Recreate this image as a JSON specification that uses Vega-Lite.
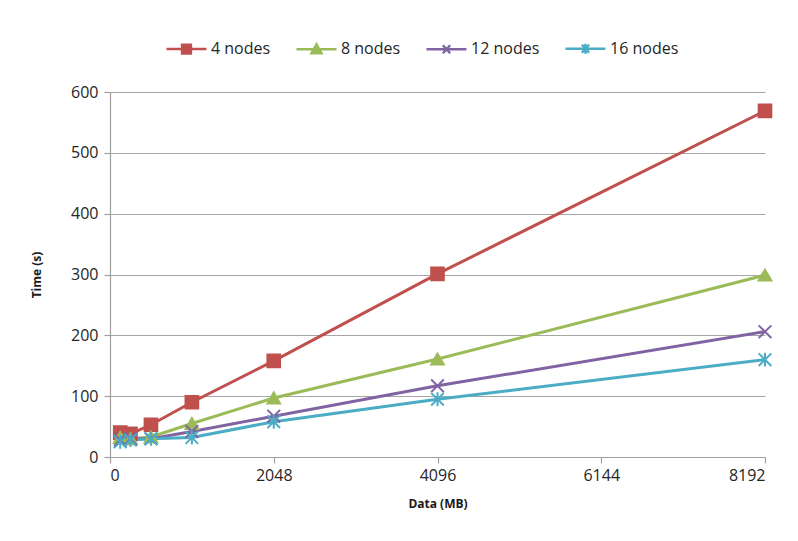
{
  "$schema": "https://vega.github.io/schema/vega-lite/v6.json",
  "width": 655,
  "height": 365,
  "autosize": {"type": "none"},
  "padding": {"left": 110, "top": 92, "right": 33, "bottom": 84},
  "background": "white",
  "config": {
    "view": {"stroke": null},
    "font": "Open Sans",
    "axis": {
      "labelFont": "Open Sans",
      "labelFontSize": 16,
      "labelColor": "#262626",
      "titleFont": "Open Sans",
      "titleFontSize": 12,
      "titleFontWeight": "bold",
      "titleColor": "#1a1a1a",
      "domainColor": "#a0a0a0",
      "tickColor": "#a0a0a0",
      "gridColor": "#a6a6a6",
      "gridWidth": 1.2,
      "domainWidth": 1.2,
      "tickWidth": 1.2,
      "tickSize": 6
    }
  },
  "data": {
    "values": [
      {"size": 128, "time": 40, "series": "4 nodes"},
      {"size": 256, "time": 38, "series": "4 nodes"},
      {"size": 512, "time": 53, "series": "4 nodes"},
      {"size": 1024, "time": 90, "series": "4 nodes"},
      {"size": 2048, "time": 158, "series": "4 nodes"},
      {"size": 4096, "time": 301, "series": "4 nodes"},
      {"size": 8192, "time": 569, "series": "4 nodes"},
      {"size": 128, "time": 32, "series": "8 nodes"},
      {"size": 256, "time": 30, "series": "8 nodes"},
      {"size": 512, "time": 33, "series": "8 nodes"},
      {"size": 1024, "time": 55, "series": "8 nodes"},
      {"size": 2048, "time": 97, "series": "8 nodes"},
      {"size": 4096, "time": 161, "series": "8 nodes"},
      {"size": 8192, "time": 299, "series": "8 nodes"},
      {"size": 128, "time": 28, "series": "12 nodes"},
      {"size": 256, "time": 30, "series": "12 nodes"},
      {"size": 512, "time": 30, "series": "12 nodes"},
      {"size": 1024, "time": 42, "series": "12 nodes"},
      {"size": 2048, "time": 67, "series": "12 nodes"},
      {"size": 4096, "time": 117, "series": "12 nodes"},
      {"size": 8192, "time": 206, "series": "12 nodes"},
      {"size": 128, "time": 25, "series": "16 nodes"},
      {"size": 256, "time": 28, "series": "16 nodes"},
      {"size": 512, "time": 30, "series": "16 nodes"},
      {"size": 1024, "time": 32, "series": "16 nodes"},
      {"size": 2048, "time": 58, "series": "16 nodes"},
      {"size": 4096, "time": 95, "series": "16 nodes"},
      {"size": 8192, "time": 160, "series": "16 nodes"}
    ]
  },
  "encoding": {
    "x": {
      "field": "size",
      "type": "quantitative",
      "scale": {"domain": [0, 8192], "nice": false},
      "axis": {
        "title": "Data (MB)",
        "values": [0, 2048, 4096, 6144, 8192],
        "format": "d",
        "grid": false,
        "labelPadding": 4,
        "titlePadding": 15
      }
    },
    "y": {
      "field": "time",
      "type": "quantitative",
      "scale": {"domain": [0, 600], "nice": false},
      "axis": {
        "title": "Time (s)",
        "values": [0, 100, 200, 300, 400, 500, 600],
        "grid": true,
        "labelPadding": 6,
        "titlePadding": 27
      }
    }
  },
  "resolve": {
    "scale": {"shape": "independent"},
    "legend": {"color": "independent", "shape": "independent", "stroke": "independent"}
  },
  "layer": [
    {
      "mark": {"type": "line", "strokeWidth": 3},
      "encoding": {
        "color": {
          "field": "series",
          "type": "nominal",
          "scale": {
            "domain": ["4 nodes", "8 nodes", "12 nodes", "16 nodes"],
            "range": ["#C0504D", "#9BBB59", "#8064A2", "#4BACC6"]
          },
          "legend": {
            "title": null,
            "orient": "none",
            "legendX": 55,
            "legendY": -65,
            "direction": "horizontal",
            "symbolSize": 1600,
            "symbolStrokeWidth": 2.5,
            "labelFont": "Open Sans",
            "labelFontSize": 16,
            "labelColor": "#262626",
            "labelOffset": 3,
            "columnPadding": 20,
            "encoding": {
              "symbols": {
                "shape": {"value": {"expr": "datum.value == '4 nodes' ? 'M-1,0H1M-0.22,-0.22H0.22V0.22H-0.22Z' : datum.value == '8 nodes' ? 'M-1,0H1M0,-0.25L0.25,0.2H-0.25Z' : datum.value == '12 nodes' ? 'M-1,0H1M-0.18,-0.2L0.18,0.2M-0.18,0.2L0.18,-0.2' : 'M-1,0H1M-0.18,-0.2L0.18,0.2M-0.18,0.2L0.18,-0.2M0,-0.25V0.25'"}},
                "fill": {"value": {"expr": "scale('color', datum.value)"}},
                "stroke": {"value": {"expr": "scale('color', datum.value)"}},
                "strokeWidth": {"value": 2.5},
                "opacity": {"value": 1}
              }
            }
          }
        }
      }
    },
    {
      "mark": {"type": "point", "filled": true, "size": 160, "strokeWidth": 2, "opacity": 1},
      "encoding": {
        "color": {"field": "series", "type": "nominal", "legend": null},
        "stroke": {
          "field": "series",
          "type": "nominal",
          "legend": null,
          "scale": {
            "domain": ["4 nodes", "8 nodes", "12 nodes", "16 nodes"],
            "range": ["#C0504D", "#9BBB59", "#8064A2", "#4BACC6"]
          }
        },
        "shape": {
          "field": "series",
          "type": "nominal",
          "legend": null,
          "scale": {
            "domain": ["4 nodes", "8 nodes", "12 nodes", "16 nodes"],
            "range": [
              "square",
              "triangle-up",
              "M-1,-1L1,1M-1,1L1,-1",
              "M-1,-1L1,1M-1,1L1,-1M0,-1.1V1.1"
            ]
          }
        }
      }
    }
  ]
}
